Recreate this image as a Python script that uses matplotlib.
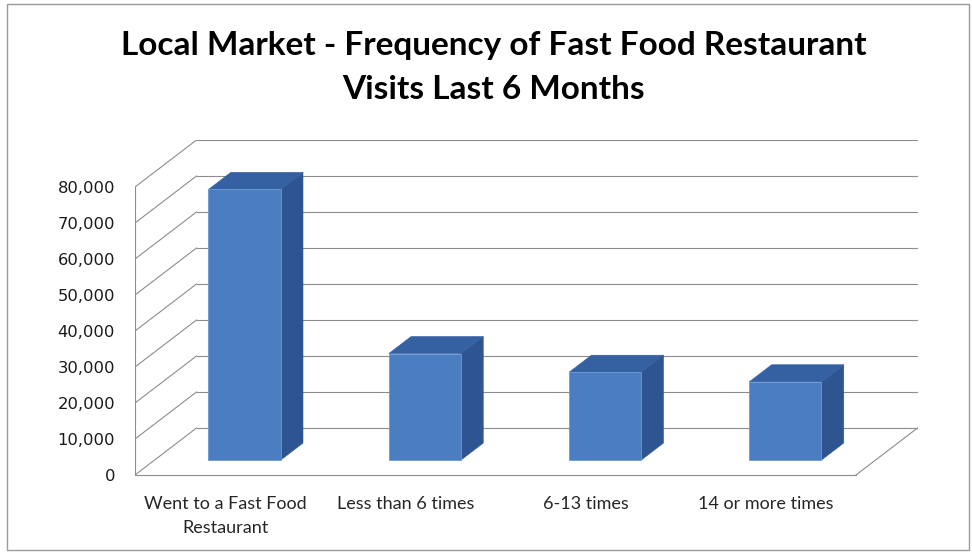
import matplotlib
matplotlib.use("Agg")
import matplotlib.pyplot as plt
from matplotlib.patches import Rectangle, Polygon

# ---- data ----
categories = ["Went to a Fast Food\nRestaurant", "Less than 6 times", "6-13 times", "14 or more times"]
values = [75200, 29600, 24400, 21750]
y_ticks = [0, 10000, 20000, 30000, 40000, 50000, 60000, 70000, 80000]
title_lines = ["Local Market - Frequency of Fast Food Restaurant", "Visits Last 6 Months"]

W, H = 972, 554
fig = plt.figure(figsize=(W / 100, H / 100), dpi=100)
fig.patch.set_facecolor("white")
renderer = fig.canvas.get_renderer()


def fit_size(text, family, weight, target_px, base=10.0):
    t = fig.text(0, 0, text, fontsize=base, family=family, weight=weight)
    w = t.get_window_extent(renderer).width
    t.remove()
    return base * target_px / w


# ---- geometry (pixels of reference) ----
left_px, right_px, bottom_px, top_px = 135, 918, 475, 140
slot_px = (856 - 135) / 4.0          # one category slot on the front plane
px_per_val = 36 / 10000.0            # front plane vertical scale
ax = fig.add_axes([left_px / W, (H - bottom_px) / H,
                   (right_px - left_px) / W, (bottom_px - top_px) / H])
ax.set_xlim(-0.5, -0.5 + (right_px - left_px) / slot_px)
ax.set_ylim(0, (bottom_px - top_px) / px_per_val)
ax.set_facecolor("none")
for s in ax.spines.values():
    s.set_visible(False)

DX = 61.5 / slot_px                  # depth offset (x data units)
DY = 47 / px_per_val                 # depth offset (value units)
n = len(categories)
x0, x1 = -0.5, n - 0.5
grid_c = "#8c8c8c"
glw = 0.8

# walls / floor grid
ymax = max(y_ticks)
for v in y_ticks:
    ax.plot([x0, x0 + DX], [v, v + DY], color=grid_c, lw=glw, zorder=1)
    ax.plot([x0 + DX, x1 + DX], [v + DY, v + DY], color=grid_c, lw=glw, zorder=1)
ax.plot([x0, x0], [0, ymax], color=grid_c, lw=glw, zorder=1)
ax.plot([x0, x1], [0, 0], color=grid_c, lw=glw, zorder=1, clip_on=False)
ax.plot([x1, x1 + DX], [0, DY], color=grid_c, lw=glw, zorder=1)

# bars (faux 3D)
bw = 0.40
d0, d1 = 0.315, 0.68
dd = d1 - d0
front_c, side_c, top_c = "#4a7ec1", "#2e5592", "#3560a1"
xs = [i + d0 * DX for i in range(n)]
base = d0 * DY
ax.bar(xs, values, width=bw, bottom=base, color=front_c,
       edgecolor="#6a9ad6", linewidth=0.6, zorder=4)
for xc, v in zip(xs, values):
    xl, xr = xc - bw / 2, xc + bw / 2
    side = Polygon([(xr, base), (xr + dd * DX, base + dd * DY),
                    (xr + dd * DX, base + dd * DY + v), (xr, base + v)],
                   closed=True, facecolor=side_c, edgecolor=side_c, lw=0.4, zorder=3)
    top = Polygon([(xl, base + v), (xr, base + v),
                   (xr + dd * DX, base + v + dd * DY), (xl + dd * DX, base + v + dd * DY)],
                  closed=True, facecolor=top_c, edgecolor=top_c, lw=0.4, zorder=3)
    ax.add_patch(side)
    ax.add_patch(top)

# y axis labels
ysz = fit_size("80,000", "DejaVu Sans", "normal", 57)
ax.set_yticks(y_ticks)
ax.set_yticklabels([f"{t:,}" for t in y_ticks], fontsize=ysz, family="DejaVu Sans", color="#1a1a1a")
ax.tick_params(axis="y", length=0, pad=14.4)

# x axis labels
xsz = fit_size("Went to a Fast Food", "Lato", "normal", 163)
ax.set_xticks(range(n))
ax.set_xticklabels(categories, fontsize=xsz, family="Lato", color="#262626", linespacing=1.6)
ax.tick_params(axis="x", length=0, pad=15)

# title
tsz = fit_size(title_lines[0], "Lato", "bold", 748)
fig.text(494 / W, 1 - 55 / H, title_lines[0], fontsize=tsz, weight="bold", family="Lato",
         ha="center", va="baseline", color="black")
fig.text(494 / W, 1 - 99 / H, title_lines[1], fontsize=tsz, weight="bold", family="Lato",
         ha="center", va="baseline", color="black")

# chart border
fig.patches.append(Rectangle((7 / W, 4 / H), 962 / W, 546 / H, transform=fig.transFigure,
                             fill=False, edgecolor="#9a9a9a", lw=1.0))

fig.savefig("out.png", dpi=100)
